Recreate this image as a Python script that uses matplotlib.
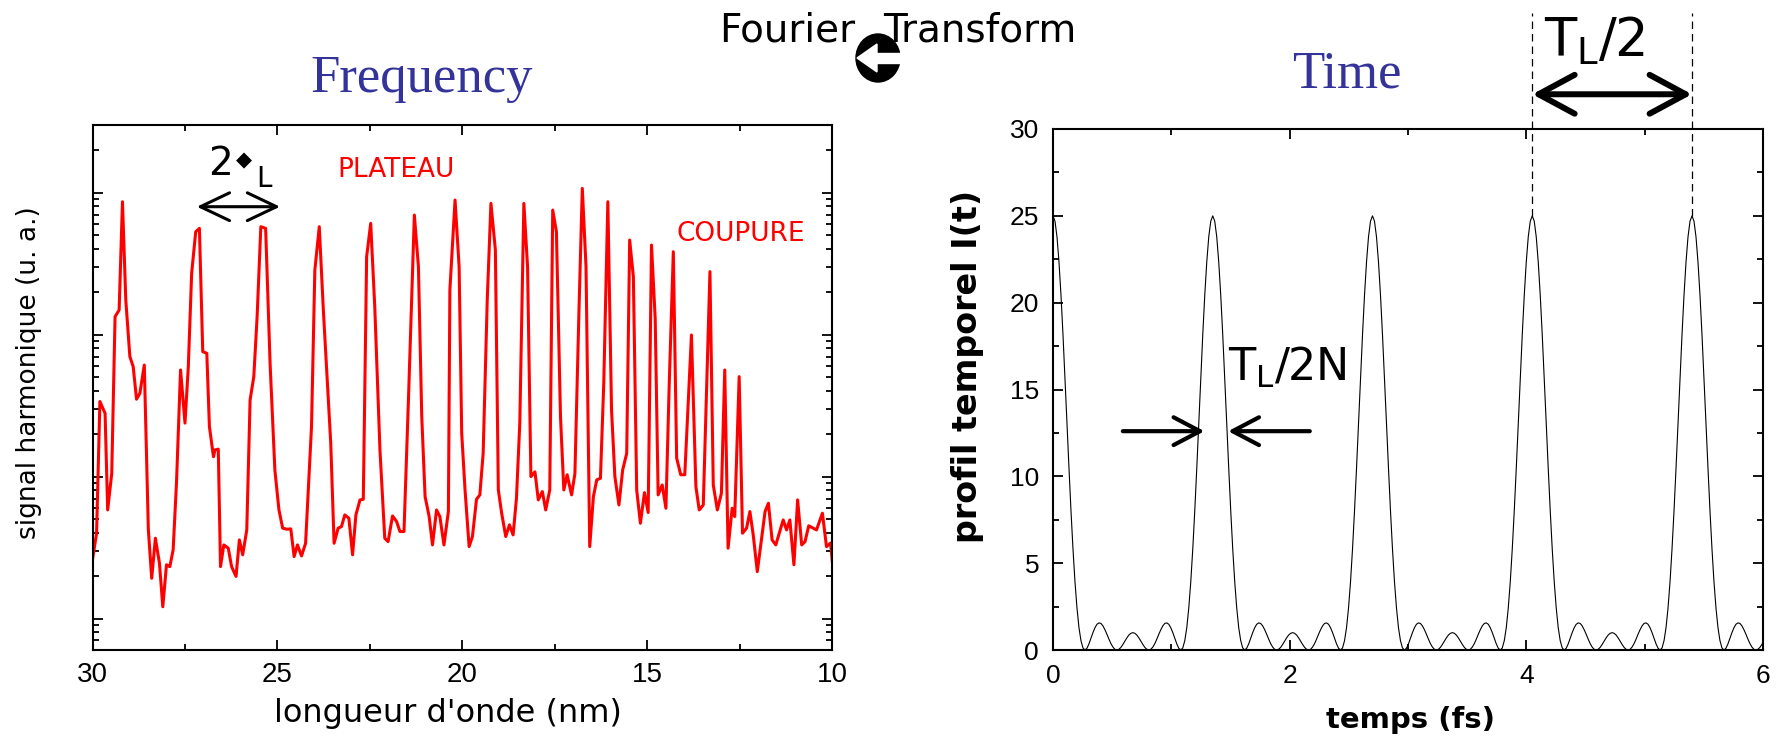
import numpy as np
import matplotlib.pyplot as plt
from matplotlib.ticker import LogLocator, MultipleLocator, NullFormatter
from matplotlib.patches import Ellipse, Polygon, Rectangle

W, H = 1780, 741

# left panel: harmonic spectrum (a. u.)
wavelength_nm = [
    30.00, 29.89, 29.80, 29.66, 29.59, 29.48, 29.39, 29.28, 29.19, 29.10,
    28.99, 28.90, 28.81, 28.72, 28.60, 28.49, 28.40, 28.30, 28.19, 28.10,
    28.00, 27.91, 27.82, 27.73, 27.62, 27.50, 27.41, 27.32, 27.21, 27.11,
    27.02, 26.91, 26.84, 26.73, 26.69, 26.60, 26.54, 26.45, 26.33, 26.24,
    26.12, 26.03, 25.94, 25.83, 25.74, 25.64, 25.55, 25.45, 25.32, 25.20,
    25.07, 24.96, 24.86, 24.75, 24.64, 24.55, 24.46, 24.35, 24.24, 24.08,
    23.99, 23.87, 23.76, 23.56, 23.47, 23.36, 23.27, 23.18, 23.07, 22.97,
    22.88, 22.77, 22.68, 22.59, 22.48, 22.37, 22.23, 22.10, 22.01, 21.89,
    21.78, 21.69, 21.58, 21.46, 21.30, 21.19, 21.10, 21.01, 20.90, 20.81,
    20.70, 20.61, 20.50, 20.38, 20.34, 20.20, 20.09, 20.02, 19.93, 19.82,
    19.73, 19.62, 19.53, 19.44, 19.33, 19.23, 19.11, 19.03, 18.94, 18.83,
    18.73, 18.63, 18.54, 18.45, 18.34, 18.24, 18.15, 18.04, 17.95, 17.84,
    17.75, 17.64, 17.56, 17.46, 17.35, 17.26, 17.17, 17.05, 16.96, 16.85,
    16.76, 16.66, 16.56, 16.46, 16.37, 16.27, 16.18, 16.07, 15.97, 15.88,
    15.77, 15.67, 15.56, 15.48, 15.38, 15.29, 15.19, 15.08, 14.98, 14.89,
    14.79, 14.71, 14.60, 14.50, 14.41, 14.30, 14.21, 14.10, 13.99, 13.81,
    13.69, 13.60, 13.49, 13.31, 13.22, 13.11, 13.00, 12.91, 12.82, 12.71,
    12.64, 12.52, 12.43, 12.32, 12.23, 12.14, 12.03, 11.82, 11.73, 11.63,
    11.53, 11.33, 11.24, 11.15, 11.04, 10.94, 10.83, 10.74, 10.64, 10.43,
    10.27, 10.16, 10.05, 10.00,
]
signal_au = [
    2.6, 3.99, 33.8, 27.9, 5.82, 10.5, 134, 149, 864, 175,
    70.0, 59.5, 35.1, 38.6, 61.1, 4.21, 1.92, 3.68, 2.45, 1.21,
    2.39, 2.32, 3.05, 8.97, 56.4, 23.8, 59.5, 270, 531, 561,
    75.9, 73.9, 22.5, 13.8, 15.4, 15.6, 2.32, 3.30, 3.13, 2.32,
    1.98, 3.58, 2.81, 4.21, 34.7, 50.6, 134, 576, 561, 62.8,
    11.1, 5.82, 4.33, 4.26, 4.28, 2.73, 3.30, 2.76, 3.39, 22.5,
    285, 576, 149, 17.2, 3.39, 4.33, 4.44, 5.37, 5.09, 2.81,
    5.37, 6.85, 6.92, 354, 608, 157, 15.4, 3.68, 3.48, 5.28,
    4.82, 4.10, 4.10, 34.7, 696, 301, 26.5, 7.23, 5.23, 3.30,
    5.82, 5.23, 3.30, 5.67, 206, 888, 301, 20.2, 8.05, 3.21,
    3.78, 6.92, 7.43, 14.6, 175, 841, 395, 8.05, 5.52, 3.78,
    4.57, 3.88, 7.04, 23.8, 841, 301, 10.0, 10.8, 6.85, 7.84,
    5.82, 8.05, 755, 531, 26.5, 8.05, 10.3, 7.43, 10.5, 149,
    1073, 301, 3.21, 7.23, 9.48, 9.73, 45.4, 864, 29.5, 10.0,
    6.31, 11.1, 14.6, 464, 256, 8.05, 4.69, 7.71, 5.58, 428,
    130, 7.43, 8.73, 5.98, 45.4, 384, 13.5, 10.3, 10.3, 99.5,
    8.51, 5.82, 6.31, 278, 8.73, 5.82, 7.64, 56.4, 3.13, 5.98,
    5.23, 50.6, 3.99, 4.33, 5.67, 3.88, 2.14, 5.67, 6.49, 3.58,
    3.30, 4.95, 4.21, 4.95, 2.39, 6.85, 3.30, 3.48, 4.50, 4.21,
    5.52, 3.21, 3.40, 2.48,
]

# right panel: temporal profile, half a period sampled every 1/80 of the period
period_fs = 1.35
half_period_profile = [
    25.0, 24.69, 23.79, 22.34, 20.43, 18.16, 15.66, 13.06, 10.47, 8.03,
    5.83, 3.94, 2.43, 1.29, 0.54, 0.12, 0.0, 0.10, 0.35, 0.67,
    1.0, 1.28, 1.48, 1.56, 1.53, 1.39, 1.17, 0.91, 0.63, 0.37,
    0.17, 0.04, 0.0, 0.04, 0.15, 0.32, 0.51, 0.70, 0.86, 0.96,
    1.0,
]
n_periods = 5
marked_peaks_fs = [4.05, 5.40]

comic = ["DejaVu Sans"]
plt.rcParams["font.family"] = ["Liberation Sans", "DejaVu Sans"]
plt.rcParams["mathtext.fontset"] = "dejavusans"

fig = plt.figure(figsize=(W / 100, H / 100), dpi=100)


def px_axes(x0, x1, y0, y1):
    return fig.add_axes([x0 / W, 1 - y1 / H, (x1 - x0) / W, (y1 - y0) / H])


# ---- left: frequency domain
ax1 = px_axes(92.5, 832.4, 125, 650)
ax1.plot(wavelength_nm, signal_au, color="#ff0000", lw=2.2, solid_joinstyle="round")
ax1.set_yscale("log")
ax1.set_xlim(30, 10)
ax1.set_ylim(0.6, 3000)
ax1.xaxis.set_major_locator(MultipleLocator(5))
ax1.xaxis.set_minor_locator(MultipleLocator(2.5))
ax1.yaxis.set_major_locator(LogLocator(base=10, numticks=10))
ax1.yaxis.set_minor_locator(LogLocator(base=10, subs=np.arange(2, 10), numticks=10))
ax1.yaxis.set_major_formatter(NullFormatter())
ax1.yaxis.set_minor_formatter(NullFormatter())
ax1.tick_params(which="both", direction="in", top=True, right=True, width=1.3)
ax1.tick_params(axis="x", which="major", length=7, labelsize=20, pad=9)
ax1.tick_params(axis="x", which="minor", length=4)
ax1.tick_params(axis="y", which="major", length=7)
ax1.tick_params(axis="y", which="minor", length=4)
for s in ax1.spines.values():
    s.set_linewidth(1.5)

ax1.annotate("", xy=(24.93, 797), xytext=(27.18, 797),
             arrowprops=dict(arrowstyle="<->,head_length=21,head_width=10",
                             mutation_scale=1, lw=2.2, color="black",
                             shrinkA=0, shrinkB=0))

# ---- right: time domain
half = np.array(half_period_profile)
one_period = np.concatenate([half, half[-2::-1]])
profile = np.concatenate([np.tile(one_period[:-1], n_periods), one_period[:1]])
t_fs = np.arange(len(profile)) * period_fs / (len(one_period) - 1)

ax2 = px_axes(1053, 1763, 129, 650)
ax2.plot(t_fs, profile, color="black", lw=0.8)
ax2.set_xlim(0, 6)
ax2.set_ylim(0, 30)
ax2.xaxis.set_major_locator(MultipleLocator(2))
ax2.xaxis.set_minor_locator(MultipleLocator(1))
ax2.yaxis.set_major_locator(MultipleLocator(5))
ax2.yaxis.set_minor_locator(MultipleLocator(2.5))
ax2.tick_params(which="both", direction="in", top=True, right=True, width=1.3,
                labelsize=19)
ax2.tick_params(which="major", length=7, pad=10)
ax2.tick_params(which="minor", length=4)
for s in ax2.spines.values():
    s.set_linewidth(1.5)

for tp in marked_peaks_fs:
    ax2.plot([tp, tp], [25, 36.7], color="black", lw=0.9, ls=(0, (6, 4)),
             clip_on=False)
ax2.annotate("", xy=(marked_peaks_fs[1], 32), xytext=(marked_peaks_fs[0], 32),
             annotation_clip=False,
             arrowprops=dict(arrowstyle="<->,head_length=26,head_width=14",
                             mutation_scale=1, lw=4.3, color="black",
                             shrinkA=0, shrinkB=0))
ax2.annotate("", xy=(1.28, 12.6), xytext=(0.59, 12.6),
             arrowprops=dict(arrowstyle="->,head_length=19,head_width=10",
                             mutation_scale=1, lw=3, color="black",
                             shrinkA=0, shrinkB=0))
ax2.annotate("", xy=(1.48, 12.6), xytext=(2.17, 12.6),
             arrowprops=dict(arrowstyle="->,head_length=19,head_width=10",
                             mutation_scale=1, lw=3, color="black",
                             shrinkA=0, shrinkB=0))

# ---- overlay for titles and free text, in pixel coordinates
ov = fig.add_axes([0, 0, 1, 1])
ov.set_xlim(0, W)
ov.set_ylim(H, 0)
ov.axis("off")

blue = "#333399"
ov.text(422, 92, "Frequency", family="Liberation Serif", fontsize=38, color=blue,
        ha="center", va="baseline")
ov.text(1347, 88, "Time", family="Liberation Serif", fontsize=38, color=blue,
        ha="center", va="baseline")

ov.text(855, 42, "Fourier", family=comic, fontsize=28, ha="right", va="baseline")
ov.text(883, 42, "Transform", family=comic, fontsize=28, ha="left", va="baseline")
ov.add_patch(Ellipse((878, 58), 44, 48, color="black"))
ov.add_patch(Polygon([(857, 58), (877, 44), (877, 72)], closed=True, color="white"))
ov.add_patch(Rectangle((875, 53), 26, 10, color="white"))

ov.text(337, 177, "PLATEAU", family=comic, fontsize=19, color="#ff0000",
        va="baseline")
ov.text(677, 241, "COUPURE", family=comic, fontsize=19, color="#ff0000",
        va="baseline")

ov.text(208, 175, "2", family=comic, fontsize=28, va="baseline")
ov.text(244, 160, "\u25c6", family=comic, fontsize=15, ha="center", va="center")
ov.text(256, 187, "L", family=comic, fontsize=20, va="baseline")

ov.text(1544, 56, r"$\mathrm{T_L/2}$", fontsize=38, va="baseline")
ov.text(1228, 381, r"$\mathrm{T_L/2N}$", fontsize=32, va="baseline")

ov.text(29, 373, "signal harmonique (u. a.)", family=comic, fontsize=19,
        rotation=90, ha="center", va="center")
ov.text(448, 722, "longueur d'onde (nm)", family=comic, fontsize=23,
        ha="center", va="baseline")
ov.text(968, 366, "profil temporel I(t)", family=comic, fontsize=24,
        fontweight="bold", rotation=90, ha="center", va="center")
ov.text(1410, 728, "temps (fs)", family=comic, fontsize=21, fontweight="bold",
        ha="center", va="baseline")

fig.savefig("out.png", dpi=100)
